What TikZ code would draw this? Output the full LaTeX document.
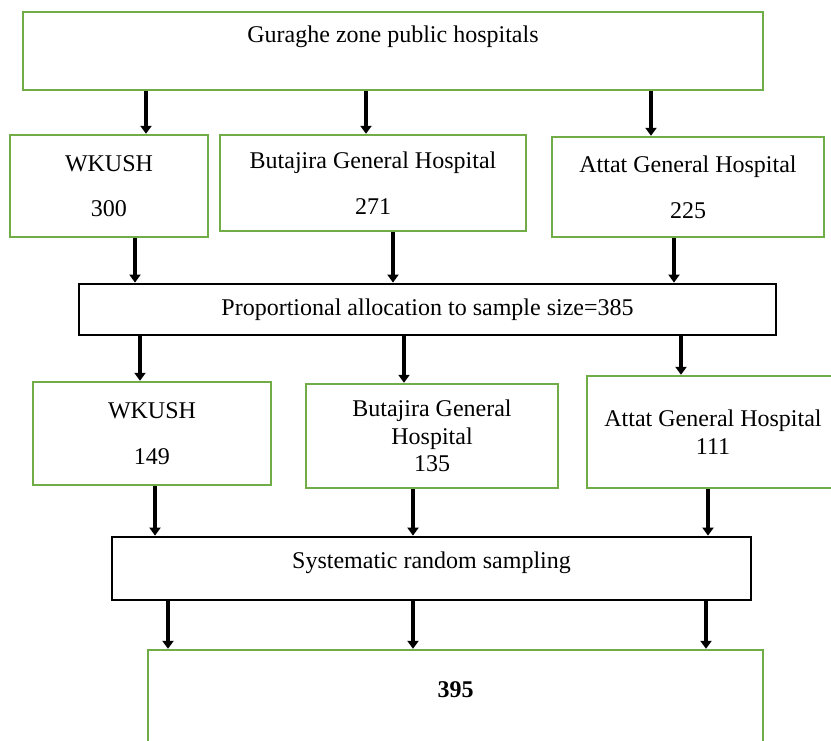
\documentclass[tikz,border=0pt]{standalone}
\usepackage{fontspec}
\setmainfont{Liberation Serif}
\usepackage{tikz}
\usetikzlibrary{arrows.meta, positioning}
\definecolor{boxgreen}{RGB}{112,173,71}
\tikzset{
  boxnode/.style = {align=center, inner sep=0pt, text centered,
    font=\fontsize{12}{13.8}\selectfont},
  greenbox/.style = {boxnode, rectangle, draw=boxgreen, line width=1.2pt},
  blackbox/.style = {boxnode, rectangle, draw=black, line width=1.4pt},
  flow/.style = {draw=black, line width=2.2pt,
    -{Triangle[width=5.5pt,length=4pt]}}
}

\begin{document}
\begin{tikzpicture}[x=0.5pt, y=-0.5pt]
\useasboundingbox (0,0) rectangle (831,740);
% source
\node [greenbox, minimum width=370pt, minimum height=39pt, text depth=16.5pt] (zone) at (393,51) {Guraghe zone public hospitals};
% hospitals with population
\node [greenbox, minimum width=99pt, minimum height=51pt] (wkush) at (109,186) {WKUSH\\[9pt]300};
\node [greenbox, minimum width=153pt, minimum height=48pt] (butajira) at (373,183) {Butajira General Hospital\\[9pt]271};
\node [greenbox, minimum width=136pt, minimum height=50pt] (attat) at (688,187) {Attat General Hospital\\[9pt]225};
% allocation
\node [blackbox, minimum width=348.5pt, minimum height=25.5pt] (alloc) at (427.5,309.5) {Proportional allocation to sample size=385};
% hospitals with sample
\node [greenbox, minimum width=119pt, minimum height=51.5pt] (wkushs) at (152,433.5) {WKUSH\\[9pt]149};
\node [greenbox, minimum width=126pt, minimum height=52pt] (butajiras) at (432,436) {Butajira General\\Hospital\\135};
\node [greenbox, minimum width=126pt, minimum height=56pt] (attats) at (713,432) {Attat General Hospital\\111};
% sampling
\node [blackbox, minimum width=319.5pt, minimum height=31.5pt, text depth=8pt] (sampling) at (431.5,568.5) {Systematic random sampling};
% total
\node [greenbox, minimum width=307.5pt, minimum height=60pt, text depth=20pt, font=\fontsize{12}{13.8}\selectfont\bfseries] (total) at (455.5,710) {395};

\draw [flow] (zone.south -| 146,0) -- (wkush.north -| 146,0);
\draw [flow] (zone.south -| 366,0) -- (butajira.north -| 366,0);
\draw [flow] (zone.south -| 651,0) -- (attat.north -| 651,0);

\draw [flow] (wkush.south -| 135,0) -- (alloc.north -| 135,0);
\draw [flow] (butajira.south -| 393,0) -- (alloc.north -| 393,0);
\draw [flow] (attat.south -| 674,0) -- (alloc.north -| 674,0);

\draw [flow] (alloc.south -| 140,0) -- (wkushs.north -| 140,0);
\draw [flow] (alloc.south -| 404,0) -- (butajiras.north -| 404,0);
\draw [flow] (alloc.south -| 681,0) -- (attats.north -| 681,0);

\draw [flow] (wkushs.south -| 155,0) -- (sampling.north -| 155,0);
\draw [flow] (butajiras.south -| 413,0) -- (sampling.north -| 413,0);
\draw [flow] (attats.south -| 708,0) -- (sampling.north -| 708,0);

\draw [flow] (sampling.south -| 168,0) -- (total.north -| 168,0);
\draw [flow] (sampling.south -| 413,0) -- (total.north -| 413,0);
\draw [flow] (sampling.south -| 706,0) -- (total.north -| 706,0);
\end{tikzpicture}
\end{document}
